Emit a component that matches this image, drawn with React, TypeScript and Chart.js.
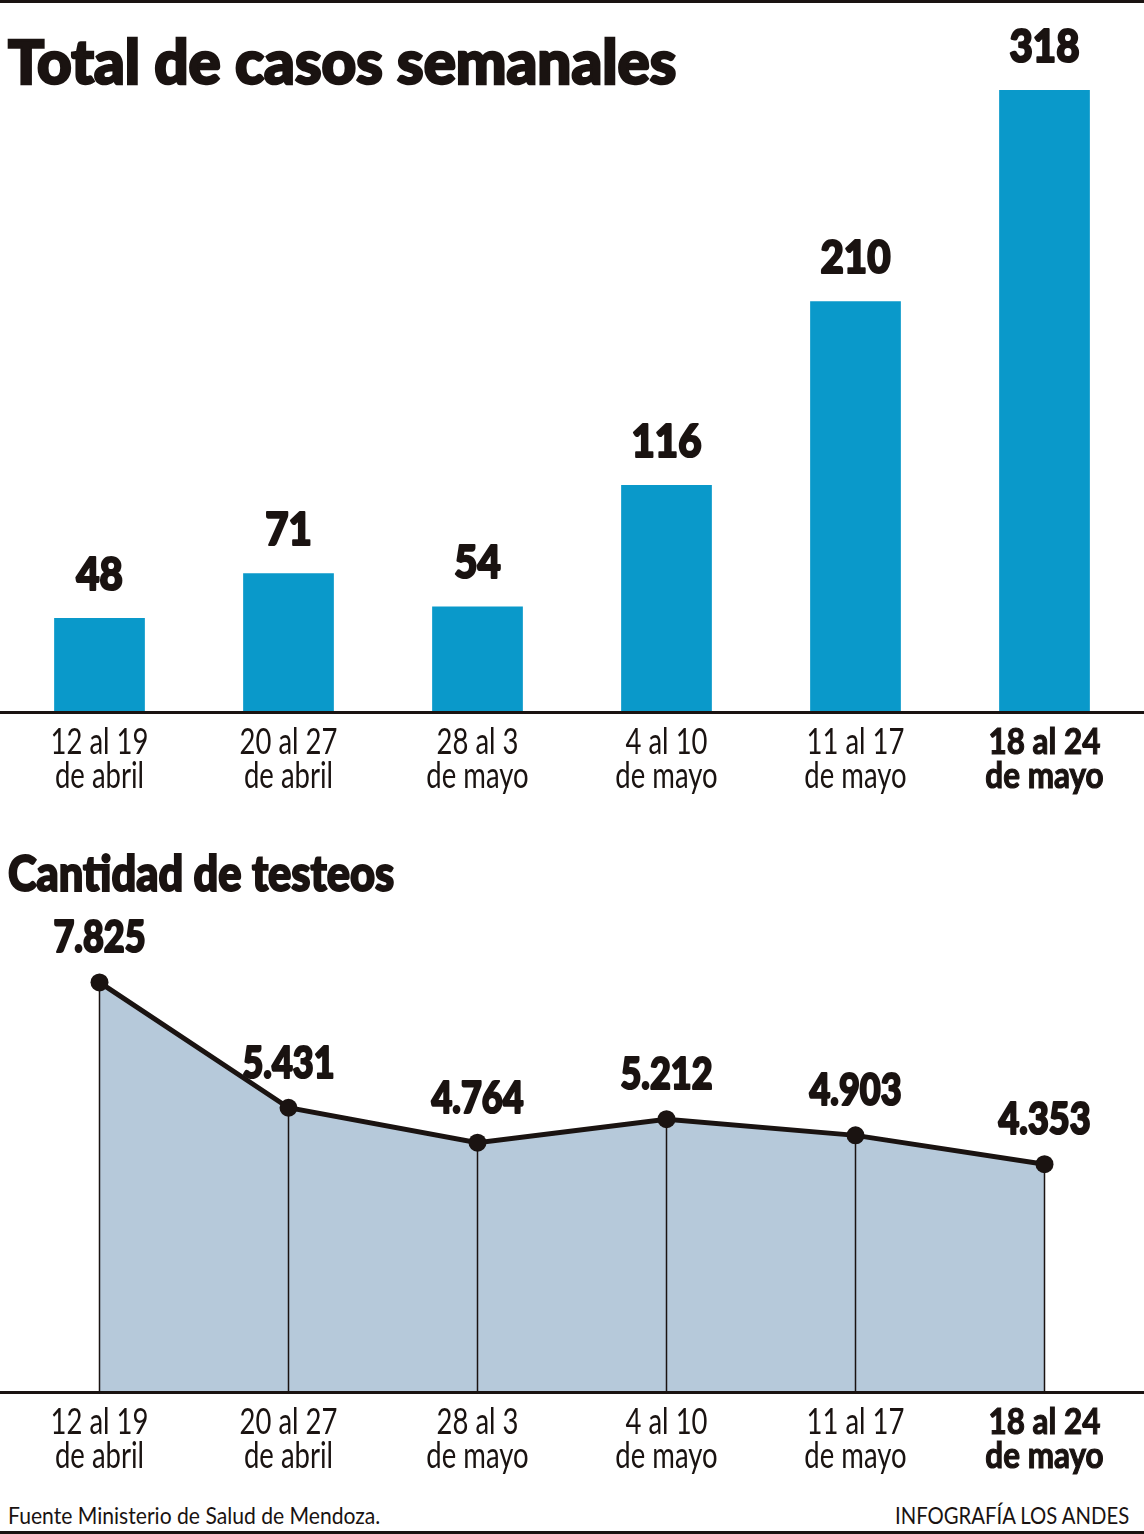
import React, { useEffect, useLayoutEffect, useRef } from 'react';
import { Chart, registerables } from 'chart.js';

Chart.register(...registerables);

// ---------- data ----------
const weekLine1 = ['12 al 19', '20 al 27', '28 al 3', '4 al 10', '11 al 17', '18 al 24'];
const weekLine2 = ['de abril', 'de abril', 'de mayo', 'de mayo', 'de mayo', 'de mayo'];
const weeklyCases = [48, 71, 54, 116, 210, 318];
const testCounts = [7825, 5431, 4764, 5212, 4903, 4353];
const highlightIndex = 5;

const TITLE_CASES = 'Total de casos semanales';
const TITLE_TESTS = 'Cantidad de testeos';
const SOURCE_TEXT = 'Fuente Ministerio de Salud de Mendoza.';
const CREDIT_TEXT = 'INFOGRAFÍA LOS ANDES';

// ---------- styles ----------
const FONT = "Lato, 'Open Sans', 'DejaVu Sans', sans-serif";
const DARK = '#1a1311';
const BLUE = '#0a99ca';
const FILL = '#b6c9da';
const W = 1144;

const fmt = (n: number) => String(n).replace(/\B(?=(\d{3})+(?!\d))/g, '.');
const tickLabels = weekLine1.map((t, i) => [t, weekLine2[i]]);

// widths (px) the reference's condensed face gives to sample strings
const TICK_REG_W = 98;
const TICK_BOLD_W = 112;
const BAR_VAL_W = 70;
const LINE_VAL_W = 92;

const axisLinePlugin = {
  id: 'axisLine',
  afterDraw(chart: any) {
    const { ctx, chartArea } = chart;
    ctx.save();
    ctx.fillStyle = DARK;
    ctx.fillRect(0, chartArea.bottom - 1, chart.width, 3);
    ctx.restore();
  },
};

const weekTicksPlugin = {
  id: 'weekTicks',
  afterDraw(chart: any) {
    const { ctx, chartArea } = chart;
    const xs = chart.scales.x;
    const regFont = `normal 37px ${FONT}`;
    const boldFont = `bold 37px ${FONT}`;
    ctx.save();
    ctx.fillStyle = DARK;
    ctx.strokeStyle = DARK;
    ctx.textAlign = 'center';
    ctx.textBaseline = 'alphabetic';
    ctx.font = regFont;
    const regK = TICK_REG_W / ctx.measureText(tickLabels[0][0]).width;
    ctx.font = boldFont;
    const boldK = TICK_BOLD_W / ctx.measureText(tickLabels[highlightIndex][0]).width;
    tickLabels.forEach((lines, i) => {
      const x = xs.getPixelForValue(i);
      const bold = i === highlightIndex;
      ctx.font = bold ? boldFont : regFont;
      const k = bold ? boldK : regK;
      lines.forEach((t, j) => {
        ctx.save();
        ctx.translate(x, chartArea.bottom + 42 + j * 34);
        ctx.scale(k, 1);
        ctx.fillText(t, 0, 0);
        if (bold) {
          ctx.lineWidth = 1.2;
          ctx.strokeText(t, 0, 0);
        }
        ctx.restore();
      });
    });
    ctx.restore();
  },
};

function FitText(props: {
  text: string; left?: number; right?: number; top: number; width: number;
  size: number; weight?: string | number; stroke?: number;
}) {
  const ref = useRef<HTMLSpanElement>(null);
  useLayoutEffect(() => {
    const el = ref.current;
    if (!el) return;
    const w = el.offsetWidth;
    if (w > 0) el.style.transform = `scaleX(${props.width / w})`;
  }, [props.text, props.width]);
  const style: any = {
    position: 'absolute',
    top: props.top,
    fontFamily: FONT,
    fontSize: props.size,
    fontWeight: props.weight ?? 'normal',
    lineHeight: 1,
    whiteSpace: 'nowrap',
    color: DARK,
    display: 'inline-block',
  };
  if (props.stroke) style.WebkitTextStroke = `${props.stroke}px ${DARK}`;
  if (props.left !== undefined) {
    style.left = props.left;
    style.transformOrigin = 'left top';
  } else {
    style.right = props.right;
    style.transformOrigin = 'right top';
  }
  return <span ref={ref} style={style}>{props.text}</span>;
}

function drawHeavyText(ctx: any, text: string, x: number, y: number, k: number) {
  ctx.save();
  ctx.translate(x, y);
  ctx.scale(k, 1);
  ctx.fillText(text, 0, 0);
  ctx.lineWidth = 2.2;
  ctx.lineJoin = 'round';
  ctx.strokeText(text, 0, 0);
  ctx.restore();
}

function CasesChart() {
  const ref = useRef<HTMLCanvasElement>(null);
  useEffect(() => {
    const labelPlugin = {
      id: 'barValues',
      afterDatasetsDraw(chart: any) {
        const { ctx } = chart;
        const meta = chart.getDatasetMeta(0);
        ctx.save();
        ctx.fillStyle = DARK;
        ctx.strokeStyle = DARK;
        ctx.font = `900 46px ${FONT}`;
        ctx.textAlign = 'center';
        ctx.textBaseline = 'alphabetic';
        const k = BAR_VAL_W / ctx.measureText(String(Math.max(...weeklyCases))).width;
        meta.data.forEach((el: any, i: number) => {
          drawHeavyText(ctx, String(weeklyCases[i]), el.x, el.y - 28, k);
        });
        ctx.restore();
      },
    };
    const chart = new Chart(ref.current!, {
      type: 'bar',
      data: {
        labels: tickLabels,
        datasets: [{
          data: weeklyCases,
          backgroundColor: BLUE,
          barPercentage: 0.48,
          categoryPercentage: 1,
        }],
      },
      options: {
        animation: false,
        responsive: false,
        maintainAspectRatio: false,
        layout: { autoPadding: false, padding: { top: 90, left: 5, right: 5, bottom: 108 } },
        plugins: { legend: { display: false }, tooltip: { enabled: false } },
        scales: {
          x: { display: false },
          y: { display: false, min: 0, max: Math.max(...weeklyCases) },
        },
      },
      plugins: [labelPlugin, axisLinePlugin, weekTicksPlugin],
    });
    return () => chart.destroy();
  }, []);
  return <canvas ref={ref} width={W} height={820} style={{ position: 'absolute', left: 0, top: 0 }} />;
}

function TestsChart() {
  const ref = useRef<HTMLCanvasElement>(null);
  useEffect(() => {
    const plugin = {
      id: 'lineExtras',
      beforeDatasetDraw(chart: any) {
        const { ctx, chartArea } = chart;
        const meta = chart.getDatasetMeta(0);
        ctx.save();
        ctx.strokeStyle = DARK;
        ctx.lineWidth = 1.5;
        meta.data.forEach((el: any) => {
          ctx.beginPath();
          ctx.moveTo(el.x, el.y);
          ctx.lineTo(el.x, chartArea.bottom);
          ctx.stroke();
        });
        ctx.restore();
      },
      afterDatasetsDraw(chart: any) {
        const { ctx } = chart;
        const meta = chart.getDatasetMeta(0);
        ctx.save();
        ctx.fillStyle = DARK;
        ctx.strokeStyle = DARK;
        ctx.font = `900 44px ${FONT}`;
        ctx.textAlign = 'center';
        ctx.textBaseline = 'alphabetic';
        const k = LINE_VAL_W / ctx.measureText(fmt(testCounts[0])).width;
        meta.data.forEach((el: any, i: number) => {
          drawHeavyText(ctx, fmt(testCounts[i]), el.x, el.y - 30, k);
        });
        ctx.restore();
      },
    };
    const chart = new Chart(ref.current!, {
      type: 'line',
      data: {
        labels: tickLabels,
        datasets: [{
          data: testCounts,
          borderColor: DARK,
          borderWidth: 5,
          backgroundColor: FILL,
          fill: 'origin',
          tension: 0,
          pointRadius: 9,
          pointBackgroundColor: DARK,
          pointBorderColor: DARK,
          pointBorderWidth: 0,
          clip: false as any,
        }],
      },
      options: {
        animation: false,
        responsive: false,
        maintainAspectRatio: false,
        layout: { autoPadding: false, padding: { top: 0, left: 5, right: 5, bottom: 108 } },
        plugins: { legend: { display: false }, tooltip: { enabled: false } },
        scales: {
          x: { display: false, offset: true },
          y: { display: false, min: 0, max: 9400 },
        },
      },
      plugins: [plugin, axisLinePlugin, weekTicksPlugin],
    });
    return () => chart.destroy();
  }, []);
  return <canvas ref={ref} width={W} height={600} style={{ position: 'absolute', left: 0, top: 900 }} />;
}

export default function App() {
  return (
    <div style={{ position: 'absolute', left: 0, top: 0, width: W, height: 1534, background: '#fff', overflow: 'hidden' }}>
      <div style={{ position: 'absolute', left: 0, top: 0, width: W, height: 3, background: DARK }} />
      <CasesChart />
      <TestsChart />
      <FitText text={TITLE_CASES} left={8} top={30} width={668} size={61} weight={900} stroke={2.5} />
      <FitText text={TITLE_TESTS} left={8} top={848} width={386} size={49} weight={900} stroke={2} />
      <FitText text={SOURCE_TEXT} left={8} top={1503} width={372} size={24} />
      <FitText text={CREDIT_TEXT} right={15} top={1503} width={234} size={24} />
      <div style={{ position: 'absolute', left: 0, top: 1531, width: W, height: 3, background: DARK }} />
    </div>
  );
}
